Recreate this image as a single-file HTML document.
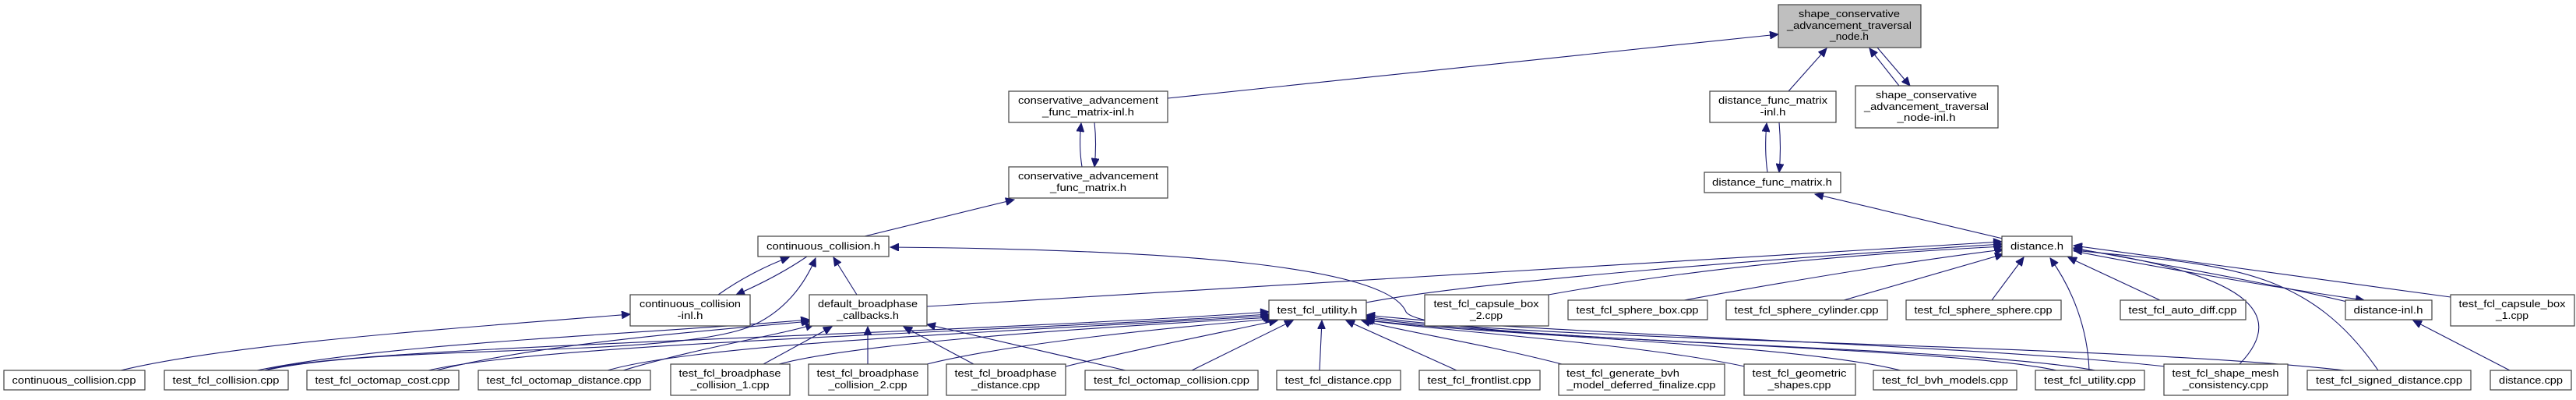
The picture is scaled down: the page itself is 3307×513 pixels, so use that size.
<!DOCTYPE html>
<html><head><meta charset="utf-8"><style>
html,body{margin:0;padding:0;background:#fff;}
svg{display:block;}
text{font-family:"Liberation Sans",sans-serif;font-size:12.5px;fill:#000;text-anchor:middle;}
rect{fill:#fff;stroke:#404040;stroke-width:1.2;}
path{fill:none;stroke:#191970;stroke-width:1.1;}
</style></head><body>
<svg width="3307" height="513" viewBox="0 0 3307 513" xmlns="http://www.w3.org/2000/svg">
<defs>
<marker id="a" markerUnits="userSpaceOnUse" markerWidth="12" markerHeight="10" refX="11" refY="5" orient="auto">
<path d="M0,0 L11,5 L0,10 Z" style="fill:#191970;stroke:#191970;stroke-width:1"/>
</marker>
</defs>
<g marker-end="url(#a)">
<path d="M1499,126 L2283,44"/>
<path d="M2296,117 L2345,62"/>
<path d="M2438,110 L2400,62"/>
<path d="M2410,61 L2452,110"/>
<path d="M1389,214 C1386,195 1386,175 1388,158"/>
<path d="M1405,157 C1407,175 1407,195 1405,214"/>
<path d="M2269,221 C2266,200 2266,180 2268,158"/>
<path d="M2284,157 C2286,180 2286,200 2284,221"/>
<path d="M1110,303 L1302,256"/>
<path d="M2571,306 L2330,249"/>
<path d="M922,378 C950,358 985,340 1013,330"/>
<path d="M1036,329 C1008,348 975,365 945,378"/>
<path d="M1100,378 L1070,330"/>
<path d="M340,475 C500,440 850,460 960,420 C1010,400 1035,360 1047,331"/>
<path d="M155,475 C300,440 600,420 809,403"/>
<path d="M2690,475 C2500,440 1830,440 1805,400 C1780,340 1500,320 1143,317"/>
<path d="M1190,393 L2570,310"/>
<path d="M1754,388 C1900,360 2300,330 2570,313"/>
<path d="M1988,378 C2200,340 2400,325 2571,316"/>
<path d="M2162,385 C2300,360 2450,335 2572,320"/>
<path d="M2367,385 L2572,326"/>
<path d="M2557,385 L2598,330"/>
<path d="M2682,475 C2680,420 2660,370 2632,331"/>
<path d="M2773,385 L2655,330"/>
<path d="M3013,387 C2900,360 2750,335 2662,318"/>
<path d="M2662,322 C2780,345 2930,370 3035,385"/>
<path d="M3146,381 L2662,315"/>
<path d="M2875,467 C2940,400 2880,350 2662,319"/>
<path d="M3053,475 C2960,340 2850,340 2662,321"/>
<path d="M3222,475 L3098,411"/>
<path d="M340,475 C420,445 1200,430 1629,400"/>
<path d="M550,475 C700,440 1300,425 1629,403"/>
<path d="M780,475 C900,440 1300,425 1631,405"/>
<path d="M1000,467 C1100,440 1400,420 1633,407"/>
<path d="M1190,467 C1300,440 1500,420 1635,409"/>
<path d="M1368,470 C1450,450 1550,430 1640,411"/>
<path d="M1530,475 L1660,411"/>
<path d="M1694,475 L1697,411"/>
<path d="M1870,475 L1728,411"/>
<path d="M2005,467 C1900,440 1800,425 1748,411"/>
<path d="M2240,470 C2100,440 1850,425 1750,410"/>
<path d="M2440,475 C2300,440 1900,430 1752,410"/>
<path d="M2640,475 C2500,445 2000,440 1754,408"/>
<path d="M3010,475 C2700,440 2000,440 1754,406"/>
<path d="M2780,470 C2500,440 2000,430 1754,404"/>
<path d="M330,475 C500,440 800,430 1039,410"/>
<path d="M560,475 C700,440 900,425 1040,412"/>
<path d="M800,475 C900,445 1000,430 1045,416"/>
<path d="M980,467 L1068,419"/>
<path d="M1114,467 L1114,419"/>
<path d="M1250,467 L1160,419"/>
<path d="M1445,475 L1190,416"/>
</g>

<rect x="2283" y="6" width="183" height="55" style="fill:#bfbfbf"/>
<text x="2374" y="22" textLength="130" lengthAdjust="spacingAndGlyphs">shape_conservative</text>
<text x="2374" y="37" textLength="160" lengthAdjust="spacingAndGlyphs">_advancement_traversal</text>
<text x="2374" y="51" textLength="50" lengthAdjust="spacingAndGlyphs">_node.h</text>

<rect x="1295" y="117" width="204" height="40"/>
<text x="1397" y="133" textLength="180" lengthAdjust="spacingAndGlyphs">conservative_advancement</text>
<text x="1397" y="148" textLength="118" lengthAdjust="spacingAndGlyphs">_func_matrix-inl.h</text>

<rect x="1295" y="214" width="204" height="40"/>
<text x="1397" y="230" textLength="180" lengthAdjust="spacingAndGlyphs">conservative_advancement</text>
<text x="1397" y="245" textLength="98" lengthAdjust="spacingAndGlyphs">_func_matrix.h</text>

<rect x="2195" y="117" width="162" height="40"/>
<text x="2276" y="133" textLength="140" lengthAdjust="spacingAndGlyphs">distance_func_matrix</text>
<text x="2276" y="148" textLength="33" lengthAdjust="spacingAndGlyphs">-inl.h</text>

<rect x="2382" y="110" width="183" height="54"/>
<text x="2473" y="126" textLength="130" lengthAdjust="spacingAndGlyphs">shape_conservative</text>
<text x="2473" y="141" textLength="160" lengthAdjust="spacingAndGlyphs">_advancement_traversal</text>
<text x="2473" y="155" textLength="75" lengthAdjust="spacingAndGlyphs">_node-inl.h</text>

<rect x="2188" y="221" width="175" height="26"/>
<text x="2275" y="238" textLength="154" lengthAdjust="spacingAndGlyphs">distance_func_matrix.h</text>

<rect x="973" y="303" width="168" height="26"/>
<text x="1057" y="320" textLength="146" lengthAdjust="spacingAndGlyphs">continuous_collision.h</text>

<rect x="2570" y="303" width="90" height="26"/>
<text x="2615" y="320" textLength="68" lengthAdjust="spacingAndGlyphs">distance.h</text>

<rect x="809" y="378" width="154" height="40"/>
<text x="886" y="394" textLength="130" lengthAdjust="spacingAndGlyphs">continuous_collision</text>
<text x="886" y="409" textLength="33" lengthAdjust="spacingAndGlyphs">-inl.h</text>

<rect x="1039" y="378" width="151" height="40"/>
<text x="1114" y="394" textLength="128" lengthAdjust="spacingAndGlyphs">default_broadphase</text>
<text x="1114" y="409" textLength="80" lengthAdjust="spacingAndGlyphs">_callbacks.h</text>

<rect x="1629" y="385" width="125" height="25"/>
<text x="1691" y="402" textLength="103" lengthAdjust="spacingAndGlyphs">test_fcl_utility.h</text>

<rect x="1829" y="378" width="159" height="40"/>
<text x="1908" y="394" textLength="135" lengthAdjust="spacingAndGlyphs">test_fcl_capsule_box</text>
<text x="1908" y="409" textLength="42" lengthAdjust="spacingAndGlyphs">_2.cpp</text>

<rect x="2013" y="385" width="179" height="25"/>
<text x="2102" y="402" textLength="157" lengthAdjust="spacingAndGlyphs">test_fcl_sphere_box.cpp</text>

<rect x="2216" y="385" width="207" height="25"/>
<text x="2319" y="402" textLength="185" lengthAdjust="spacingAndGlyphs">test_fcl_sphere_cylinder.cpp</text>

<rect x="2447" y="385" width="199" height="25"/>
<text x="2546" y="402" textLength="177" lengthAdjust="spacingAndGlyphs">test_fcl_sphere_sphere.cpp</text>

<rect x="2722" y="385" width="161" height="25"/>
<text x="2802" y="402" textLength="139" lengthAdjust="spacingAndGlyphs">test_fcl_auto_diff.cpp</text>

<rect x="3011" y="385" width="111" height="25"/>
<text x="3066" y="402" textLength="89" lengthAdjust="spacingAndGlyphs">distance-inl.h</text>

<rect x="3146" y="378" width="159" height="40"/>
<text x="3225" y="394" textLength="137" lengthAdjust="spacingAndGlyphs">test_fcl_capsule_box</text>
<text x="3225" y="409" textLength="42" lengthAdjust="spacingAndGlyphs">_1.cpp</text>

<rect x="5" y="475" width="181" height="25"/>
<text x="95" y="492" textLength="159" lengthAdjust="spacingAndGlyphs">continuous_collision.cpp</text>
<rect x="211" y="475" width="159" height="25"/>
<text x="290" y="492" textLength="137" lengthAdjust="spacingAndGlyphs">test_fcl_collision.cpp</text>
<rect x="394" y="475" width="195" height="25"/>
<text x="491" y="492" textLength="173" lengthAdjust="spacingAndGlyphs">test_fcl_octomap_cost.cpp</text>
<rect x="614" y="475" width="221" height="25"/>
<text x="724" y="492" textLength="199" lengthAdjust="spacingAndGlyphs">test_fcl_octomap_distance.cpp</text>

<rect x="861" y="467" width="153" height="40"/>
<text x="937" y="483" textLength="131" lengthAdjust="spacingAndGlyphs">test_fcl_broadphase</text>
<text x="937" y="498" textLength="101" lengthAdjust="spacingAndGlyphs">_collision_1.cpp</text>
<rect x="1038" y="467" width="153" height="40"/>
<text x="1114" y="483" textLength="131" lengthAdjust="spacingAndGlyphs">test_fcl_broadphase</text>
<text x="1114" y="498" textLength="101" lengthAdjust="spacingAndGlyphs">_collision_2.cpp</text>
<rect x="1215" y="467" width="153" height="40"/>
<text x="1291" y="483" textLength="131" lengthAdjust="spacingAndGlyphs">test_fcl_broadphase</text>
<text x="1291" y="498" textLength="88" lengthAdjust="spacingAndGlyphs">_distance.cpp</text>

<rect x="1393" y="475" width="222" height="25"/>
<text x="1504" y="492" textLength="200" lengthAdjust="spacingAndGlyphs">test_fcl_octomap_collision.cpp</text>
<rect x="1639" y="475" width="159" height="25"/>
<text x="1718" y="492" textLength="137" lengthAdjust="spacingAndGlyphs">test_fcl_distance.cpp</text>
<rect x="1822" y="475" width="155" height="25"/>
<text x="1899" y="492" textLength="133" lengthAdjust="spacingAndGlyphs">test_fcl_frontlist.cpp</text>

<rect x="2001" y="467" width="213" height="40"/>
<text x="2107" y="483" textLength="145" lengthAdjust="spacingAndGlyphs" style="text-anchor:start" dx="-96">test_fcl_generate_bvh</text>
<text x="2107" y="498" textLength="191" lengthAdjust="spacingAndGlyphs">_model_deferred_finalize.cpp</text>

<rect x="2239" y="467" width="143" height="40"/>
<text x="2310" y="483" textLength="121" lengthAdjust="spacingAndGlyphs">test_fcl_geometric</text>
<text x="2310" y="498" textLength="81" lengthAdjust="spacingAndGlyphs">_shapes.cpp</text>

<rect x="2405" y="475" width="184" height="25"/>
<text x="2497" y="492" textLength="162" lengthAdjust="spacingAndGlyphs">test_fcl_bvh_models.cpp</text>
<rect x="2613" y="475" width="140" height="25"/>
<text x="2683" y="492" textLength="118" lengthAdjust="spacingAndGlyphs">test_fcl_utility.cpp</text>

<rect x="2778" y="467" width="159" height="40"/>
<text x="2857" y="483" textLength="137" lengthAdjust="spacingAndGlyphs">test_fcl_shape_mesh</text>
<text x="2857" y="498" textLength="110" lengthAdjust="spacingAndGlyphs">_consistency.cpp</text>

<rect x="2962" y="475" width="210" height="25"/>
<text x="3067" y="492" textLength="188" lengthAdjust="spacingAndGlyphs">test_fcl_signed_distance.cpp</text>
<rect x="3197" y="475" width="104" height="25"/>
<text x="3249" y="492" textLength="82" lengthAdjust="spacingAndGlyphs">distance.cpp</text>
</svg>
</body></html>
